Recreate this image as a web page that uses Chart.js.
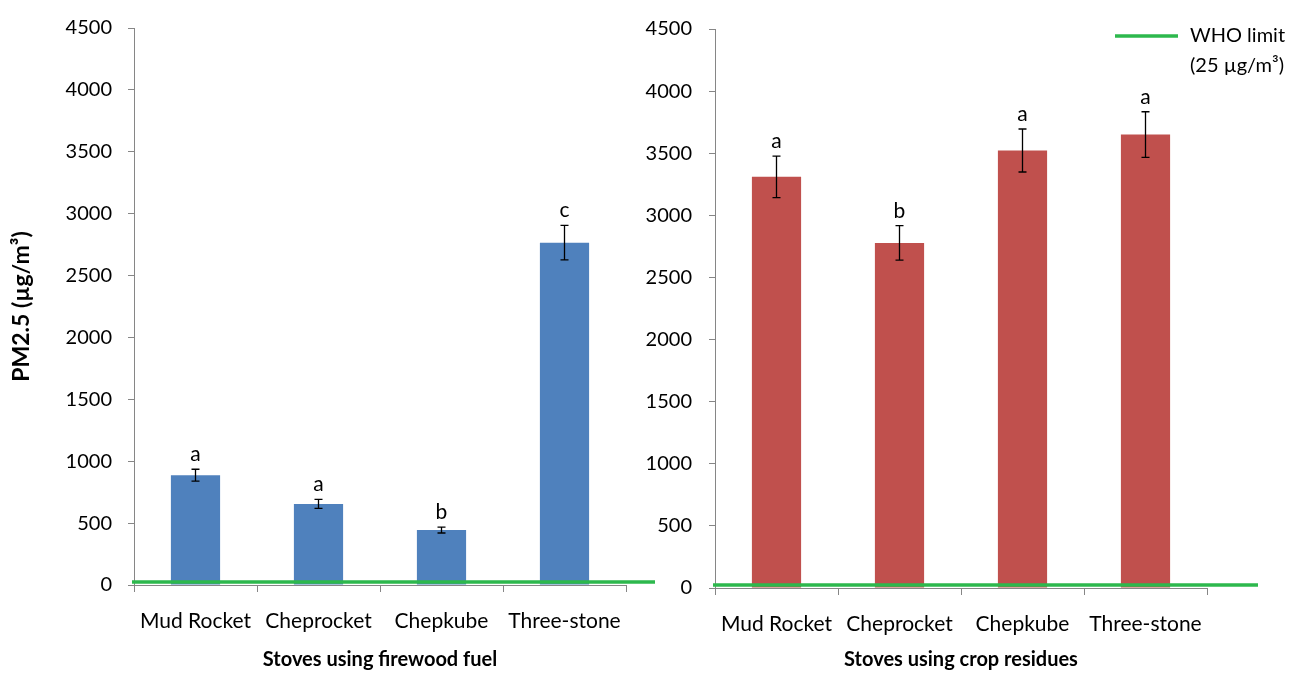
<!DOCTYPE html>
<html lang="en">
<head>
<meta charset="UTF-8">
<title>PM2.5 by stove type</title>
<script src="https://cdn.jsdelivr.net/npm/chart.js"></script>
<style>
    body { margin: 0; background: #fff; }
    #wrap { position: relative; width: 1295px; height: 673px; overflow: hidden; }
    .panel { position: absolute; top: 0; }
</style>
</head>
<body>
<div id="wrap">
    <div class="panel" style="left:0px;"><canvas id="firewoodChart" width="660" height="673"></canvas></div>
    <div class="panel" style="left:640px;"><canvas id="residueChart" width="655" height="673"></canvas></div>
</div>

<script>
    // stoves and measured PM2.5 (mean, error, significance letter)
    const stoves = ['Mud Rocket', 'Cheprocket', 'Chepkube', 'Three-stone'];

    const firewoodPM = [887, 655, 444, 2766];
    const firewoodErr = [48, 36, 24, 140];
    const firewoodGroups = ['a', 'a', 'b', 'c'];

    const residuePM = [3310, 2778, 3522, 3650];
    const residueErr = [167, 139, 173, 184];
    const residueGroups = ['a', 'b', 'a', 'a'];

    const whoLimit = 25;
    const yMax = 4500;
    const yStep = 500;

    const FONT = 'Lato, "Open Sans", sans-serif';
    const AXIS_GREY = '#868686';
    const WHO_GREEN = '#2db84d';

    // error bars + letters above each bar
    const errorBarPlugin = {
        id: 'errorBars',
        afterDatasetsDraw(chart, args, opts) {
            const ctx = chart.ctx;
            const y = chart.scales.y;
            const meta = chart.getDatasetMeta(0);
            const vals = chart.data.datasets[0].data;
            ctx.save();
            meta.data.forEach((bar, i) => {
                const top = y.getPixelForValue(vals[i] + opts.err[i]);
                const bot = y.getPixelForValue(vals[i] - opts.err[i]);
                ctx.strokeStyle = '#000';
                ctx.lineWidth = 1.3;
                ctx.beginPath();
                ctx.moveTo(bar.x, top); ctx.lineTo(bar.x, bot);
                ctx.moveTo(bar.x - 4, top); ctx.lineTo(bar.x + 4, top);
                ctx.moveTo(bar.x - 4, bot); ctx.lineTo(bar.x + 4, bot);
                ctx.stroke();

                ctx.fillStyle = '#000';
                ctx.font = '21px ' + FONT;
                ctx.textAlign = 'center';
                ctx.textBaseline = 'alphabetic';
                ctx.fillText(opts.groups[i], bar.x, top - 8);
            });
            ctx.restore();
        }
    };

    // WHO limit line, runs a bit past the last category
    const whoLinePlugin = {
        id: 'whoLine',
        afterDatasetsDraw(chart, args, opts) {
            const ctx = chart.ctx;
            const yy = chart.scales.y.getPixelForValue(whoLimit);
            ctx.save();
            ctx.strokeStyle = WHO_GREEN;
            ctx.lineWidth = 3.5;
            ctx.beginPath();
            ctx.moveTo(chart.chartArea.left - 2, yy);
            ctx.lineTo(opts.end, yy);
            ctx.stroke();

            if (opts.legend) {
                const lx = opts.legend.x, ly = opts.legend.y;
                ctx.beginPath();
                ctx.moveTo(lx, ly); ctx.lineTo(lx + 63, ly);
                ctx.stroke();
                ctx.fillStyle = '#000';
                ctx.font = '20px ' + FONT;
                ctx.textAlign = 'left';
                ctx.textBaseline = 'middle';
                ctx.fillText('WHO limit', lx + 75, ly);
                ctx.fillText('(25 \u00b5g/m\u00b3)', lx + 75, ly + 30);
            }
            ctx.restore();
        }
    };

    function drawPanel(tag, values, errs, groups, colour, xTitle, opts) {
        const ctx = document.getElementById(tag);

        let data = {
            labels: stoves,
            datasets: [{
                data: values,
                backgroundColor: colour,
                borderWidth: 0,
                barPercentage: 0.4,
                categoryPercentage: 1.0
            }]
        };

        let options = {
            responsive: false,
            animation: false,
            devicePixelRatio: 1,
            layout: { padding: { top: 27, right: opts.padRight, bottom: 0, left: opts.padLeft } },
            plugins: {
                legend: { display: false },
                tooltip: { enabled: false },
                errorBars: { err: errs, groups: groups },
                whoLine: { end: opts.lineEnd, legend: opts.legend }
            },
            scales: {
                x: {
                    grid: { offset: true, drawOnChartArea: false, drawTicks: true, tickLength: 7, color: AXIS_GREY },
                    border: { color: AXIS_GREY },
                    ticks: { color: '#000', font: { family: FONT, size: 21 }, padding: 17, maxRotation: 0 },
                    title: { display: true, text: xTitle, color: '#000', font: { family: FONT, size: 20, weight: 'bold' }, padding: { top: 2, bottom: 1 } },
                    afterFit: (scale) => { scale.height = 673 - opts.axisY; }
                },
                y: {
                    min: 0,
                    max: yMax,
                    grid: { drawOnChartArea: false, drawTicks: true, tickLength: 6, color: AXIS_GREY },
                    border: { color: AXIS_GREY },
                    ticks: {
                        stepSize: yStep, color: '#000', font: { family: FONT, size: 20 }, padding: opts.tickPad,
                        callback: (v) => String(v)
                    },
                    title: { display: !!opts.yTitle, text: opts.yTitle, color: '#000', font: { family: FONT, size: 23, weight: 'bold' }, padding: { top: 0, bottom: 0 } },
                    afterFit: (scale) => { scale.width = opts.axisX - opts.padLeft; }
                }
            }
        };

        new Chart(ctx, {
            type: 'bar',
            data: data,
            options: options,
            plugins: [errorBarPlugin, whoLinePlugin]
        });
    }

    drawPanel('firewoodChart', firewoodPM, firewoodErr, firewoodGroups, '#4f81bd', 'Stoves using firewood fuel', {
        axisX: 134, axisY: 585, padLeft: 8, padRight: 34, tickPad: 16, lineEnd: 655,
        yTitle: 'PM2.5 (\u00b5g/m\u00b3)'
    });

    drawPanel('residueChart', residuePM, residueErr, residueGroups, '#c0504d', 'Stoves using crop residues', {
        axisX: 75, axisY: 588, padLeft: 0, padRight: 88, tickPad: 17, lineEnd: 618,
        legend: { x: 475, y: 36 }
    });
</script>
</body>
</html>
